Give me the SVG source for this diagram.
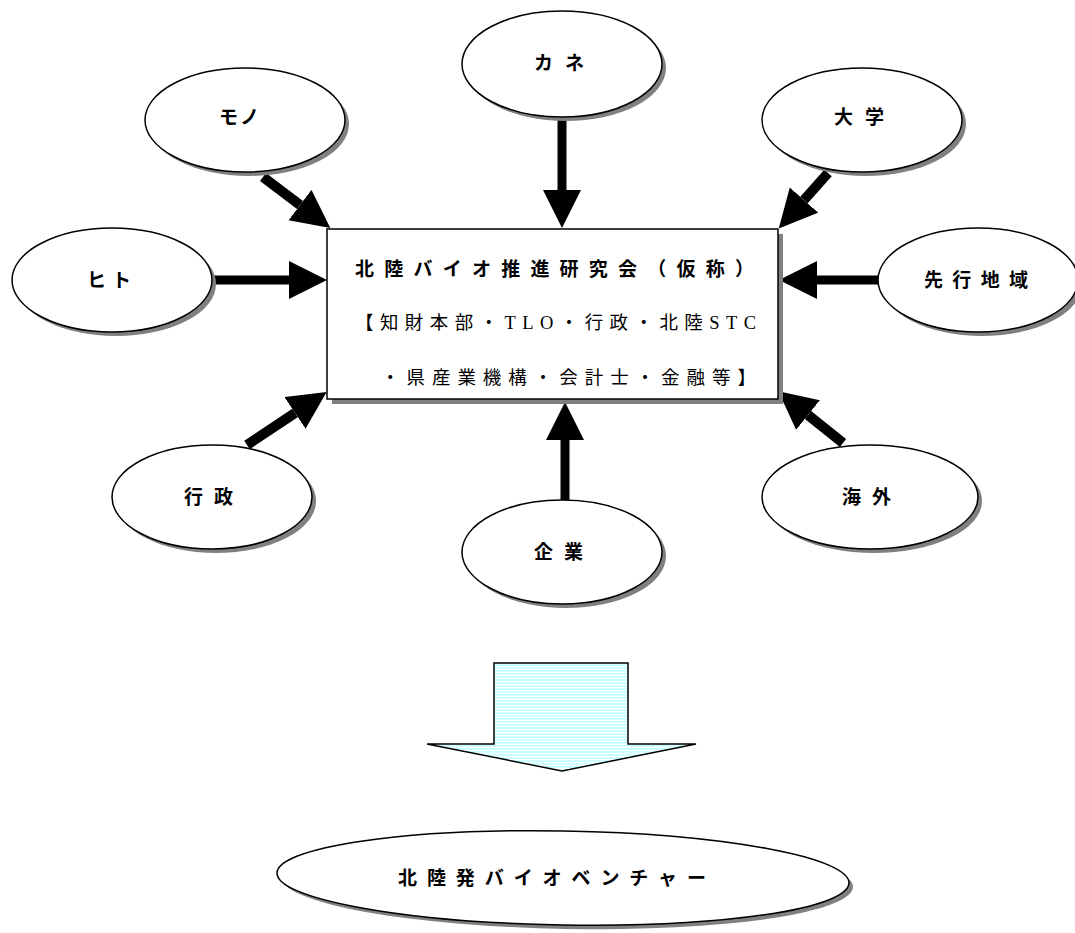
<svg xmlns="http://www.w3.org/2000/svg" width="1075" height="933" viewBox="0 0 1075 933">
<style>
.el{fill:#fff;stroke:#000;stroke-width:1.5}
.sh{fill:#808080;stroke:none}
.lb{font-family:"Noto Sans CJK JP","Noto Sans",sans-serif;font-weight:bold;font-size:19px;fill:#000}
.sub{font-family:"Liberation Serif","Noto Sans CJK JP",serif;font-size:18.5px;fill:#000}
.ar{stroke:#000;stroke-width:9;fill:none;marker-end:url(#head)}
</style>
<defs>
<marker id="head" markerUnits="userSpaceOnUse" markerWidth="40" markerHeight="40" viewBox="0 0 40 40" refX="0" refY="19" orient="auto">
<path d="M0,0 L38,19 L0,38 Z" fill="#000"/>
</marker>
<pattern id="stripe" patternUnits="userSpaceOnUse" width="10" height="3">
<rect width="10" height="3" fill="#ccffff"/>
<rect y="0" width="10" height="1" fill="#ffffff"/>
</pattern>
</defs>
<rect width="1075" height="933" fill="#fff"/>

<g id="connectors">
<line class="ar" x1="562" y1="117" x2="562" y2="190"/>
<line class="ar" x1="212" y1="280" x2="289" y2="280"/>
<line class="ar" x1="565" y1="500" x2="565" y2="440"/>
<line class="ar" x1="878" y1="280" x2="817" y2="280"/>
<line class="ar" x1="263" y1="177" x2="300" y2="205" style="stroke-width:10"/>
<line class="ar" x1="828" y1="173" x2="804" y2="200" style="stroke-width:10"/>
<line class="ar" x1="247" y1="445" x2="295" y2="413" style="stroke-width:10"/>
<line class="ar" x1="843" y1="443" x2="808" y2="415" style="stroke-width:10"/>
</g>

<g id="center">
<rect class="sh" x="332" y="234" width="451" height="170"/>
<rect x="327" y="229" width="451" height="170" fill="#fff" stroke="#000" stroke-width="1.5"/>
<text class="lb" x="355" y="276" font-size="21" textLength="399" lengthAdjust="spacing">北陸バイオ推進研究会（仮称）</text>
<text class="sub" x="355" y="329" textLength="401" lengthAdjust="spacing">【知財本部・TLO・行政・北陸STC</text>
<text class="sub" x="381" y="384" textLength="375" lengthAdjust="spacing">・県産業機構・会計士・金融等】</text>
</g>

<g id="kane">
<ellipse class="sh" cx="566" cy="68" rx="100" ry="53"/>
<ellipse class="el" cx="562" cy="64" rx="100" ry="53"/>
<text class="lb" x="534" y="70" textLength="50" lengthAdjust="spacing">カネ</text>
</g>

<g id="mono">
<ellipse class="sh" cx="249" cy="124" rx="100" ry="52"/>
<ellipse class="el" cx="245" cy="120" rx="100" ry="52"/>
<text class="lb" x="219" y="124" textLength="40" lengthAdjust="spacing">モノ</text>
</g>

<g id="daigaku">
<ellipse class="sh" cx="866" cy="124" rx="100" ry="52"/>
<ellipse class="el" cx="862" cy="120" rx="100" ry="52"/>
<text class="lb" x="834" y="124" textLength="50" lengthAdjust="spacing">大学</text>
</g>

<g id="hito">
<ellipse class="sh" cx="116" cy="284" rx="100" ry="52"/>
<ellipse class="el" cx="112" cy="280" rx="100" ry="52"/>
<text class="lb" x="87" y="287" textLength="44" lengthAdjust="spacing">ヒト</text>
</g>

<g id="senko">
<ellipse class="sh" cx="982" cy="284" rx="100" ry="52"/>
<ellipse class="el" cx="978" cy="280" rx="100" ry="52"/>
<text class="lb" x="924" y="287" textLength="104" lengthAdjust="spacing">先行地域</text>
</g>

<g id="gyosei">
<ellipse class="sh" cx="216" cy="501" rx="100" ry="52"/>
<ellipse class="el" cx="212" cy="497" rx="100" ry="52"/>
<text class="lb" x="184" y="504" textLength="49" lengthAdjust="spacing">行政</text>
</g>

<g id="kigyo">
<ellipse class="sh" cx="566" cy="556" rx="100" ry="52"/>
<ellipse class="el" cx="562" cy="552" rx="100" ry="52"/>
<text class="lb" x="534" y="559" textLength="49" lengthAdjust="spacing">企業</text>
</g>

<g id="kaigai">
<ellipse class="sh" cx="874" cy="501" rx="108" ry="52"/>
<ellipse class="el" cx="870" cy="497" rx="108" ry="52"/>
<text class="lb" x="842" y="504" textLength="49" lengthAdjust="spacing">海外</text>
</g>

<g id="down-arrow">
<path d="M494,663 L628,663 L628,744 L696,744 L562,771 L427,744 L494,744 Z" fill="url(#stripe)" stroke="#000" stroke-width="1.5" stroke-linejoin="miter"/>
</g>

<g id="venture">
<ellipse class="sh" cx="567" cy="882" rx="286" ry="47" transform="rotate(1 567 882)"/>
<ellipse class="el" cx="563" cy="878" rx="286" ry="47" transform="rotate(1 563 878)"/>
<text class="lb" x="398" y="885" font-size="20" textLength="308" lengthAdjust="spacing">北陸発バイオベンチャー</text>
</g>
</svg>
